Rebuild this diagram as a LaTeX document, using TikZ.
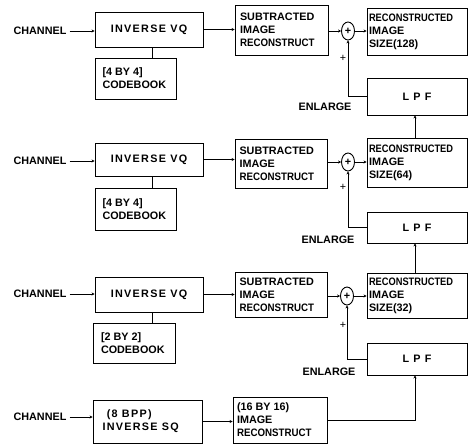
\documentclass[tikz,border=0pt]{standalone}
\usepackage{fontspec}
\usepackage{graphicx}
\setmainfont{Liberation Sans}
\newfontfamily\spc[LetterSpace=12]{Liberation Sans}
\usetikzlibrary{arrows.meta,shapes.geometric}
\newcommand{\recn}{\scalebox{0.86}[1]{RECONSTRUCTED}}
\newcommand{\recc}{\scalebox{0.9}[1]{RECONSTRUCT}}
\begin{document}
\begin{tikzpicture}[x=1pt,y=-1pt,
  every node/.style={font=\bfseries\fontsize{10.8}{13}\selectfont, inner sep=0pt},
  blk/.style={draw, line width=0.9pt, rectangle},
  lbl/.style={},
  sumc/.style={draw, line width=0.9pt, ellipse, minimum width=13pt, minimum height=18pt},
  ln/.style={line width=0.9pt},
  ar/.style={line width=0.9pt, -{Stealth[length=3pt,width=3pt]}}
]
\useasboundingbox (0,0) rectangle (473,447);
% ---------- Row 1
\node[lbl] (ch1) at (40,31) {CHANNEL};
\node[blk, minimum width=108pt, minimum height=35pt] (ivq1) at (149,29.5) {\spc INVERSE VQ};
\node[blk, minimum width=81pt, minimum height=41pt] (cb1) at (135.5,78.5) {\parbox{66pt}{[4 BY 4]\\CODEBOOK}};
\node[blk, minimum width=93pt, minimum height=50pt] (sub1) at (281.5,30) {\parbox{83pt}{SUBTRACTED\\IMAGE\\\recc}};
\node[sumc] (sum1) at (348,31) {+};
\node[blk, minimum width=100pt, minimum height=47pt] (rec1) at (417,31.5) {\parbox{96pt}{\recn\\IMAGE\\SIZE(128)}};
\node[blk, minimum width=100pt, minimum height=37pt] (lpf1) at (417,96.5) {\spc L P F};
\node[lbl] (en1) at (325,107) {ENLARGE};
\node[lbl] (p1) at (343,58) {\normalfont +};
% ---------- Row 2
\node[lbl] (ch2) at (40,161) {CHANNEL};
\node[blk, minimum width=108pt, minimum height=33pt] (ivq2) at (149,159.5) {\spc INVERSE VQ};
\node[blk, minimum width=81pt, minimum height=42pt] (cb2) at (135.5,209) {\parbox{66pt}{[4 BY 4]\\CODEBOOK}};
\node[blk, minimum width=92pt, minimum height=49pt] (sub2) at (281,163.5) {\parbox{83pt}{SUBTRACTED\\IMAGE\\\recc}};
\node[sumc] (sum2) at (348,162) {+};
\node[blk, minimum width=100pt, minimum height=49pt] (rec2) at (417,162.5) {\parbox{96pt}{\recn\\IMAGE\\SIZE(64)}};
\node[blk, minimum width=100pt, minimum height=31pt] (lpf2) at (417,227.5) {\spc L P F};
\node[lbl] (en2) at (328,240) {ENLARGE};
\node[lbl] (p2) at (343,187) {\normalfont +};
% ---------- Row 3
\node[lbl] (ch3) at (40,294) {CHANNEL};
\node[blk, minimum width=108pt, minimum height=35pt] (ivq3) at (149,294.5) {\spc INVERSE VQ};
\node[blk, minimum width=82pt, minimum height=40pt] (cb3) at (134,343) {\parbox{66pt}{[2 BY 2]\\CODEBOOK}};
\node[blk, minimum width=92pt, minimum height=45pt] (sub3) at (281,294.5) {\parbox{83pt}{SUBTRACTED\\IMAGE\\\recc}};
\node[sumc] (sum3) at (347,296) {+};
\node[blk, minimum width=100pt, minimum height=45pt] (rec3) at (417,295.5) {\parbox{96pt}{\recn\\IMAGE\\SIZE(32)}};
\node[blk, minimum width=100pt, minimum height=32pt] (lpf3) at (417,359) {\spc L P F};
\node[lbl] (en3) at (329,372) {ENLARGE};
\node[lbl] (p3) at (343,325) {\normalfont +};
% ---------- Row 4
\node[lbl] (ch4) at (40,417) {CHANNEL};
\node[blk, minimum width=109pt, minimum height=43pt] (sq) at (147.5,421.5) {\parbox{90pt}{\spc\ (8 BPP)\\INVERSE SQ}};
\node[blk, minimum width=94pt, minimum height=46pt] (r16) at (280,420) {\parbox{86pt}{(16 BY 16)\\IMAGE\\\recc}};
% ---------- connectors
\foreach \r in {1,2,3}{
  \draw[ar] (ch\r.east) ++(3,0) coordinate (s\r) -- (s\r -| ivq\r.west);
  \draw[ar] (ivq\r.east) -- (ivq\r.east -| sub\r.west);
  \draw[ar] (sub\r.east |- sum\r.west) -- (sum\r.west);
  \draw[ar] (sum\r.east) -- (sum\r.east -| rec\r.west);
  \draw[ln] (cb\r.north -| ivq\r.south) ++(3,0) coordinate (c\r) -- (c\r |- ivq\r.south);
  \draw[ar] (lpf\r.west) -| (sum\r.south);
}
\draw[ar] (rec2.north) ++(-2,0) coordinate (u2) -- (u2 |- lpf1.south);
\draw[ar] (rec3.north) ++(-2,0) coordinate (u3) -- (u3 |- lpf2.south);
\draw[ar] (ch4.east) ++(3,0) coordinate (s4) -- (s4 -| sq.west);
\draw[ar] (sq.east) -- (sq.east -| r16.west);
\draw[ar] (r16.east) -| ([xshift=-2pt]lpf3.south);
\end{tikzpicture}
\end{document}
